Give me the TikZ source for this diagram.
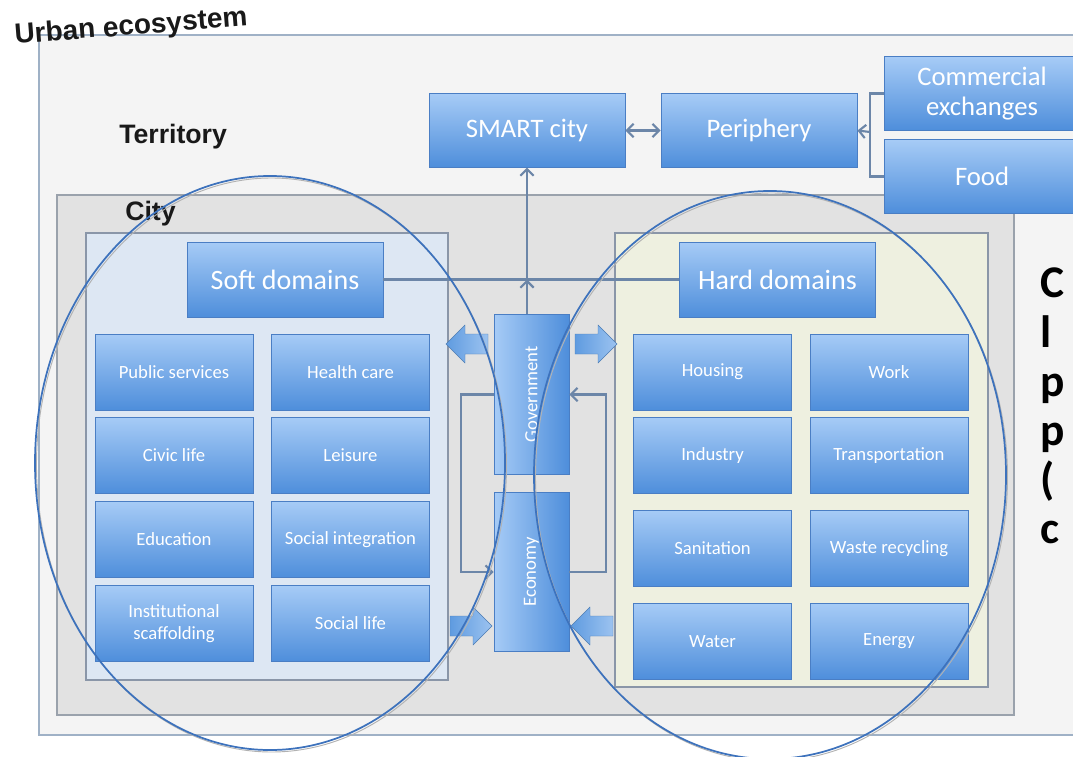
\documentclass[tikz,border=0pt]{standalone}
\usepackage{fontspec}
\newfontfamily\carl{Carlito}
\newfontfamily\arl{Liberation Sans}
\usetikzlibrary{arrows.meta,calc}

\definecolor{boxtop}{HTML}{A6CBF6}
\definecolor{boxbot}{HTML}{4E8EDB}
\definecolor{boxedge}{HTML}{4A7EC4}
\definecolor{linkcol}{HTML}{6C86A8}
\definecolor{outerfill}{HTML}{F4F4F4}
\definecolor{outeredge}{HTML}{9FB1C6}
\definecolor{cityfill}{HTML}{E2E2E2}
\definecolor{cityedge}{HTML}{9AA2AC}
\definecolor{softfill}{HTML}{DDE7F3}
\definecolor{hardfill}{HTML}{EEF0E0}
\definecolor{paneledge}{HTML}{8A96A8}
\definecolor{arrlight}{HTML}{9CC3F0}
\definecolor{arrdark}{HTML}{5F9BE0}
\definecolor{ovalcol}{HTML}{3D72BC}

\tikzset{
  blk/.style={draw=boxedge, line width=0.6pt, top color=boxtop, bottom color=boxbot,
    text=white, align=center, inner sep=0pt},
  cellbox/.style={blk, font=\carl\fontsize{14}{16}\selectfont,
    minimum width=118.5pt, minimum height=57pt},
  headbox/.style={blk, font=\carl\fontsize{21}{24}\selectfont,
    minimum width=147pt, minimum height=56.25pt},
  terrbox/.style={blk, font=\carl\fontsize{20}{23}\selectfont,
    minimum width=147pt, minimum height=55pt},
  vbox/.style={draw=boxedge, line width=0.6pt, left color=boxtop, right color=boxbot,
    minimum width=56.25pt, minimum height=119.5pt, inner sep=0pt},
  vtext/.style={rotate=90, text=white, font=\carl\fontsize{14}{16}\selectfont},
  title/.style={font=\arl\bfseries\fontsize{20}{24}\selectfont, text=black!90, inner sep=0pt},
  link/.style={draw=linkcol, line width=1.6pt, >={Straight Barb[length=5pt,width=10pt]}},
  panel/.style={line width=0.8pt},
  oval/.style={draw=ovalcol, line width=1.3pt},
  fatarr/.pic={
    \shade[left color=arrdark, right color=arrlight, draw=arrdark!80!black, line width=0.3pt]
      (-21,-10) -- (2,-10) -- (2,-19) -- (21,0) -- (2,19) -- (2,10) -- (-21,10) -- cycle;
  }
}

\begin{document}
\begin{tikzpicture}[x=0.75pt,y=0.75pt,yscale=-1,xscale=1]
\useasboundingbox (0,0) rectangle (1073,756);

% territory and city
\draw [panel, draw=outeredge, fill=outerfill] (39,35) rectangle (1095,735);
\draw [panel, draw=cityedge, fill=cityfill] (57,195) rectangle (1014,715);
\draw [panel, draw=paneledge, fill=softfill] (86,233) rectangle (448,680);
\draw [panel, draw=paneledge, fill=hardfill] (615,233) rectangle (988,687);

% titles
\node [title, font=\arl\bfseries\fontsize{21}{24}\selectfont, anchor=base west, rotate=4.5] (urban) at (15,44) {Urban ecosystem};
\node [title, anchor=base west] (terr) at (119,143) {Territory};
\node [title, anchor=base west] (city) at (125,220) {City};

% territory boxes
\node [terrbox] (smart) at (527,130.5) {SMART city};
\node [terrbox] (periph) at (759,130.5) {Periphery};
\node [terrbox] (commerce) at (982,93.5) {Commercial\\exchanges};
\node [terrbox] (food) at (982,176.5) {Food};

% domains
\node [headbox] (softd) at (285,279.5) {Soft domains};
\node [headbox] (hardd) at (777.5,279.5) {Hard domains};

\node [cellbox] (pubserv) at (174,372) {Public services};
\node [cellbox] (health) at (350.5,372) {Health care};
\node [cellbox] (civic) at (174,455.5) {Civic life};
\node [cellbox] (leisure) at (350.5,455.5) {Leisure};
\node [cellbox] (educ) at (174,539.5) {Education};
\node [cellbox] (socint) at (350.5,539.5) {Social integration};
\node [cellbox] (instit) at (174,623.5) {Institutional\\scaffolding};
\node [cellbox] (soclife) at (350.5,623.5) {Social life};

\node [cellbox] (housing) at (712.5,372) {Housing};
\node [cellbox] (work) at (889,372) {Work};
\node [cellbox] (industry) at (712.5,455.5) {Industry};
\node [cellbox] (transp) at (889,455.5) {Transportation};
\node [cellbox] (sanit) at (712.5,548.5) {Sanitation};
\node [cellbox] (waste) at (889,548.5) {Waste recycling};
\node [cellbox] (water) at (712.5,641.5) {Water};
\node [cellbox] (energy) at (889,641.5) {Energy};

% government and economy
\node [vbox, label={[vtext]center:Government}] (gov) at (531.5,394.5) {};
\node [vbox, label={[vtext]center:Economy}] (eco) at (531.5,572) {};

% connectors
\coordinate (brk) at (870,132);
\coordinate (bar) at (smart.south |- softd.east);
\draw [link, <->] (smart) -- (periph);
\draw [link] (commerce.west) -| (brk) |- (food.west);
\draw [link, ->] (brk) -- (periph.east);
\draw [link] (softd.east) -- (hardd.west);
\draw [link, ->] (bar |- gov.north) -- (bar);
\draw [link, ->] (bar) -- (smart.south);
\draw [link, ->] (gov.west) -- ++(-33,0) |- (eco.west);
\draw [link, ->] (eco.east) -- ++(37,0) |- (gov.east);

% block arrows
\pic [rotate=180] at (467,344) {fatarr};
\pic at (596,344) {fatarr};
\pic at (471,626) {fatarr};
\pic [rotate=180] at (592,626) {fatarr};

% hand drawn ovals
\draw [draw=gray!60, line width=0.7pt] (271.5,465) ellipse [x radius=235, y radius=287];
\draw [oval] (270,463) ellipse [x radius=235, y radius=287];
\draw [draw=gray!60, line width=0.7pt] (771.5,477) ellipse [x radius=236, y radius=284];
\draw [oval] (770,475) ellipse [x radius=236, y radius=284];

% letters at the right edge
\node [anchor=north west, align=left, inner sep=0pt, text=black,
  font=\carl\bfseries\fontsize{34}{36.75}\selectfont] (cut) at (1040,268) {C\\l\\p\\p\\(\\c};

\end{tikzpicture}
\end{document}
